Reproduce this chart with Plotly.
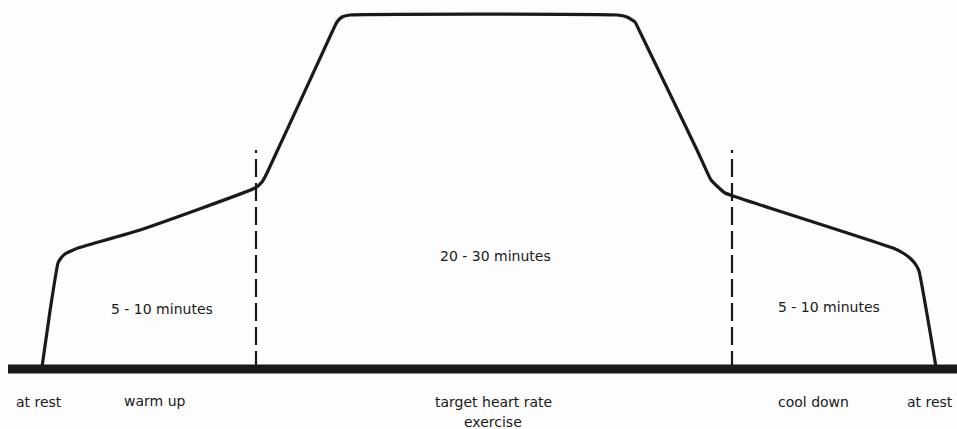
import plotly.graph_objects as go

W, H = 957, 429

# Heart-rate curve (schematic units: x = time position, y = level above page bottom)
curve_x = [42, 50, 58, 61, 65, 71, 78, 140, 255, 262, 267, 333, 337, 342, 350, 617, 627, 635, 640, 697, 711, 718, 725, 733, 745, 893, 903, 911, 916, 919, 936]
curve_y = [62, 118, 166, 171, 175, 178, 181, 199, 241, 247, 256, 399, 407, 412, 414, 414, 412, 407, 397, 279, 249, 242, 236, 233, 229, 181, 176, 170, 164, 158, 62]

# Baseline
base_x = [8, 957]
base_y = [60, 60]

# Phase dividers
divider_x = [256, 732]
divider_top = 279

# Labels
phase_labels = ["5 - 10 minutes", "20 - 30 minutes", "5 - 10 minutes"]
phase_label_x = [162, 495, 829]
phase_label_y = [120, 173, 122]

axis_labels = ["at rest", "warm up", "target heart rate", "exercise", "cool down", "at rest"]
axis_label_x = [39, 155, 493, 493, 813, 955]
axis_label_y = [27, 28, 27, 7, 27, 27]
axis_label_anchor = ["center", "center", "center", "center", "center", "right"]

FONT = dict(family="DejaVu Sans, sans-serif", size=14, color="#1a1a1a")

fig = go.Figure()
fig.add_trace(go.Scatter(x=base_x, y=base_y, mode="lines",
                         line=dict(color="#1a1a1a", width=9), hoverinfo="skip"))
for dx in divider_x:
    fig.add_trace(go.Scatter(x=[dx, dx], y=[base_y[0], divider_top], mode="lines",
                             line=dict(color="#1a1a1a", width=2.2, dash="18px,6px"),
                             hoverinfo="skip"))
fig.add_trace(go.Scatter(x=curve_x, y=curve_y, mode="lines",
                         line=dict(color="#1a1a1a", width=3.2, shape="spline", smoothing=0.4),
                         hoverinfo="skip"))

for t, x, y in zip(phase_labels, phase_label_x, phase_label_y):
    fig.add_annotation(x=x, y=y, text=t, showarrow=False, xanchor="center", yanchor="middle",
                       font=FONT)
for t, x, y, a in zip(axis_labels, axis_label_x, axis_label_y, axis_label_anchor):
    fig.add_annotation(x=x, y=y, text=t, showarrow=False, xanchor=a, yanchor="middle",
                       font=FONT)

fig.update_layout(
    width=W, height=H,
    margin=dict(l=0, r=0, t=0, b=0),
    paper_bgcolor="#fdfdfd", plot_bgcolor="#fdfdfd",
    showlegend=False,
    xaxis=dict(range=[0, W], visible=False, fixedrange=True),
    yaxis=dict(range=[0, H], visible=False, fixedrange=True),
)
fig.write_html("out.html",
               config={"displayModeBar": False},
               post_script="document.body.style.margin='0';document.body.style.overflow='hidden';")
